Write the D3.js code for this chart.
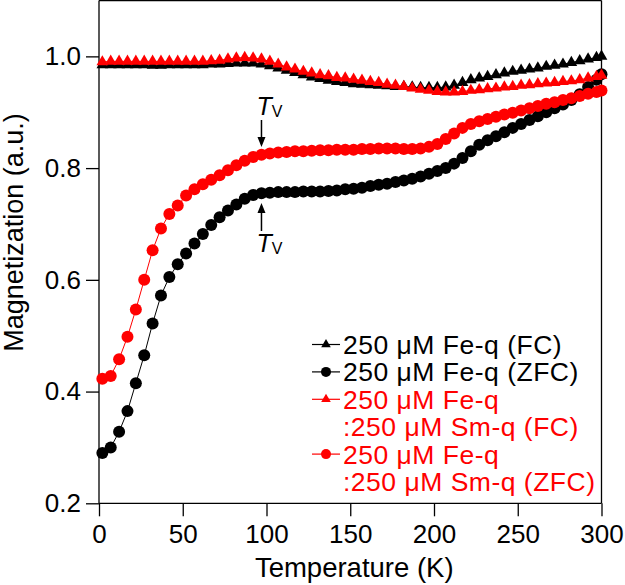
<!DOCTYPE html>
<html><head><meta charset="utf-8">
<script src="https://cdn.jsdelivr.net/npm/d3@7"></script>
<style>body{margin:0;background:#fff}svg{display:block}text{font-family:"Liberation Sans",Arial,sans-serif}</style>
</head><body>
<svg id="c" width="625" height="585"></svg>
<script>
const temps = [2,7,12,17,22,27,32,37,42,47,52,57,62,67,72,77,82,87,92,97,102,107,112,117,122,127,132,137,142,147,152,157,162,167,172,177,182,187,192,197,202,207,212,217,222,227,232,237,242,247,252,257,262,267,272,277,282,287,292,297,300];
const feFC = [.985,.985,.985,.985,.985,.985,.984,.984,.985,.985,.985,.985,.985,.986,.986,.987,.988,.988,.988,.986,.983,.979,.975,.971,.967,.963,.960,.957,.955,.953,.951,.950,.949,.948,.947,.946,.946,.945,.944,.944,.944,.945,.948,.953,.958,.961,.964,.967,.970,.973,.975,.977,.979,.982,.984,.986,.989,.992,.995,.998,1.0];
const feZFC = [.290,.300,.328,.365,.415,.465,.522,.572,.605,.628,.647,.665,.682,.698,.712,.724,.735,.745,.752,.755,.756,.757,.757,.757,.758,.758,.758,.759,.760,.762,.763,.765,.768,.770,.772,.775,.778,.781,.785,.790,.795,.800,.808,.818,.830,.842,.850,.857,.864,.872,.879,.886,.893,.900,.907,.914,.922,.932,.945,.958,.968];
const smFC = [.990,.991,.991,.991,.991,.991,.991,.991,.991,.991,.991,.991,.991,.992,.993,.995,.997,.998,.997,.995,.991,.986,.981,.977,.973,.970,.967,.965,.962,.961,.959,.957,.955,.953,.950,.948,.946,.943,.941,.939,.937,.936,.936,.937,.939,.940,.942,.943,.945,.946,.948,.949,.951,.952,.953,.955,.956,.958,.961,.964,.966];
const smZFC = [.423,.428,.458,.498,.547,.600,.653,.692,.718,.733,.751,.762,.771,.779,.787,.796,.805,.813,.820,.824,.826,.828,.829,.830,.830,.831,.832,.832,.833,.833,.833,.834,.834,.835,.835,.835,.834,.834,.835,.838,.843,.852,.862,.872,.879,.884,.888,.892,.896,.899,.903,.907,.911,.915,.918,.922,.925,.929,.933,.936,.939];
const xTicks = [0,50,100,150,200,250,300];
const yTicks = [0.2,0.4,0.6,0.8,1.0];
const legendLabels = [["250 μM Fe-q (FC)"],["250 μM Fe-q (ZFC)"],["250 μM Fe-q",":250 μM Sm-q (FC)"],["250 μM Fe-q",":250 μM Sm-q (ZFC)"]];
const RED = "#f00", BLACK = "#000";
const series = [
  {vals: feFC, color: BLACK, sym: "tri"},
  {vals: feZFC, color: BLACK, sym: "circ"},
  {vals: smFC, color: RED, sym: "tri"},
  {vals: smZFC, color: RED, sym: "circ"}
];

const svg = d3.select("#c");
const L = 99, R = 601.5, T = 0.5, B = 503.3;
const x = d3.scaleLinear().domain([0,300]).range([L,R]);
const y = d3.scaleLinear().domain([0.2,1.1]).range([B,T]);

svg.append("line").attr("x1",L).attr("x2",R).attr("y1",T).attr("y2",T).attr("stroke","#000").attr("stroke-width",1.3);
svg.append("line").attr("x1",R).attr("x2",R).attr("y1",T).attr("y2",B).attr("stroke","#000").attr("stroke-width",1.3);

const xa = svg.append("g").attr("transform",`translate(0,${B})`)
  .call(d3.axisBottom(x).tickValues(xTicks).tickSize(13).tickPadding(8).tickFormat(d3.format("d")));
const ya = svg.append("g").attr("transform",`translate(${L},0)`)
  .call(d3.axisLeft(y).tickValues(yTicks).tickSize(13).tickPadding(5).tickFormat(d3.format(".1f")));
[xa,ya].forEach(g=>{
  g.select(".domain").attr("stroke-width",1.3);
  g.selectAll(".tick line").attr("stroke-width",1.3);
  g.selectAll("text").attr("font-size",26).attr("fill","#000").attr("font-family","Liberation Sans, Arial, sans-serif");
});
xa.select(".domain").attr("d",`M${L},0H${R}`);
ya.select(".domain").attr("d",`M0,${B}V${T}`);

svg.append("text").attr("x",(L+R)/2+4).attr("y",577).attr("text-anchor","middle").attr("font-size",27.5).text("Temperature (K)");
svg.append("text").attr("transform","translate(23,232.5) rotate(-90)").attr("text-anchor","middle").attr("font-size",27).text("Magnetization (a.u.)");

const triPath = d3.symbol().type(d3.symbolTriangle).size(60)();
const triSmall = d3.symbol().type(d3.symbolTriangle).size(40)();
const line = d3.line().x((d,i)=>x(temps[i])).y(d=>y(d));
const plot = svg.append("g");
series.forEach(s=>{
  plot.append("path").attr("d",line(s.vals)).attr("fill","none").attr("stroke",s.color).attr("stroke-width",1);
  const g = plot.append("g");
  if (s.sym==="circ") {
    g.selectAll("circle").data(s.vals).join("circle")
      .attr("cx",(d,i)=>x(temps[i])).attr("cy",d=>y(d)).attr("r",6).attr("fill",s.color);
  } else {
    g.selectAll("path").data(s.vals).join("path").attr("d",triPath)
      .attr("transform",(d,i)=>`translate(${x(temps[i])},${y(d)})`).attr("fill",s.color);
  }
});

function arrow(xp, y0, y1){
  svg.append("line").attr("x1",xp).attr("x2",xp).attr("y1",y0).attr("y2",y1 + (y1>y0?-6:6)).attr("stroke","#000").attr("stroke-width",1.5);
  const dir = y1>y0?1:-1;
  svg.append("path").attr("d",`M${xp-4},${y1-dir*10}L${xp+4},${y1-dir*10}L${xp},${y1}Z`).attr("fill","#000");
}
const tvX = x(97);
arrow(tvX, 120, 147);
arrow(tvX, 231, 203);
function tv(xp, yb){
  const t = svg.append("text").attr("x",xp).attr("y",yb).attr("font-size",25);
  t.append("tspan").attr("font-style","italic").text("T");
  t.append("tspan").attr("font-size",16).attr("dy",2).text("V");
}
tv(256.5, 115);
tv(256.5, 252);

const lg = svg.append("g");
let row = 0;
const step = 27.4, base0 = 354;
legendLabels.forEach((lines,k)=>{
  const s = series[k];
  const by = base0 + row*step;
  const cy = by - 9.5;
  lg.append("line").attr("x1",312).attr("x2",340).attr("y1",cy).attr("y2",cy).attr("stroke",s.color).attr("stroke-width",1.2);
  if (s.sym==="circ") lg.append("circle").attr("cx",326).attr("cy",cy).attr("r",5).attr("fill",s.color);
  else lg.append("path").attr("d",triSmall).attr("transform",`translate(326,${cy})`).attr("fill",s.color);
  lines.forEach((t,j)=>{
    lg.append("text").attr("x",343).attr("y",by + j*step).attr("font-size",26.5).attr("letter-spacing",0.5).attr("fill",s.color).text(t);
  });
  row += lines.length;
});
</script>
</body></html>
